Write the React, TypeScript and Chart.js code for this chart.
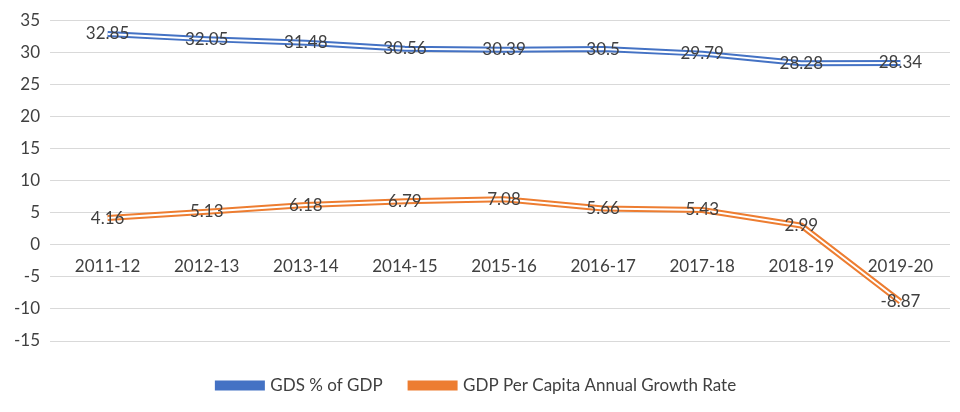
import React, { useEffect, useRef } from "react";
import { Chart, registerables } from "chart.js";
Chart.register(...registerables);

const categories = ["2011-12","2012-13","2013-14","2014-15","2015-16","2016-17","2017-18","2018-19","2019-20"];
const gds = [32.85,32.05,31.48,30.56,30.39,30.5,29.79,28.28,28.34];
const growth = [4.16,5.13,6.18,6.79,7.08,5.66,5.43,2.99,-8.87];
const BLUE = "#4472C4";
const ORANGE = "#ED7D31";
const FONT = "Lato, 'Open Sans', sans-serif";

const overlay = {
  id: "overlay",
  afterDatasetsDraw(chart: any) {
    const ctx = chart.ctx;
    const x = chart.scales.x, y = chart.scales.y;
    ctx.save();
    ctx.font = `17px ${FONT}`;
    ctx.fillStyle = "#404040";
    ctx.textAlign = "center";
    ctx.textBaseline = "middle";
    const y0 = y.getPixelForValue(0);
    categories.forEach((c, i) => ctx.fillText(c, x.getPixelForValue(i), y0 + 22));
    [gds, growth].forEach((arr) =>
      arr.forEach((v, i) => ctx.fillText(String(v), x.getPixelForValue(i), y.getPixelForValue(v)))
    );
    ctx.restore();
  },
};

export default function App() {
  const ref = useRef<HTMLCanvasElement>(null);
  useEffect(() => {
    document.body.style.margin = "0";
    const ds = (label: string, data: number[], color: string, w: number, order: number) => ({
      label, data, borderColor: color, backgroundColor: color, borderWidth: w,
      pointRadius: 0, tension: 0, fill: false, order,
    });
    const chart = new Chart(ref.current!, {
      type: "line",
      data: {
        labels: categories,
        datasets: [
          ds("GDS % of GDP", gds, BLUE, 6, 2),
          ds("w1", gds, "#ffffff", 2, 1),
          ds("GDP Per Capita Annual Growth Rate", growth, ORANGE, 6, 2),
          ds("w2", growth, "#ffffff", 2, 1),
        ] as any,
      },
      options: {
        animation: false,
        responsive: false,
        layout: { padding: { top: 8, right: 10, left: 4, bottom: 8 } },
        scales: {
          x: { offset: true, grid: { display: false }, border: { display: false }, ticks: { display: false } },
          y: {
            min: -15, max: 35,
            ticks: { stepSize: 5, color: "#404040", font: { size: 17, family: FONT }, padding: 10 },
            grid: { color: "#d9d9d9" },
            border: { display: false },
          },
        },
        plugins: {
          tooltip: { enabled: false },
          legend: {
            position: "bottom",
            labels: {
              filter: (item: any) => !item.text.startsWith("w"),
              boxWidth: 44, boxHeight: 4, color: "#404040",
              font: { size: 17, family: FONT }, padding: 28,
            },
          },
        },
      } as any,
      plugins: [overlay],
    });
    return () => chart.destroy();
  }, []);
  return <canvas ref={ref} width={960} height={412} />;
}
